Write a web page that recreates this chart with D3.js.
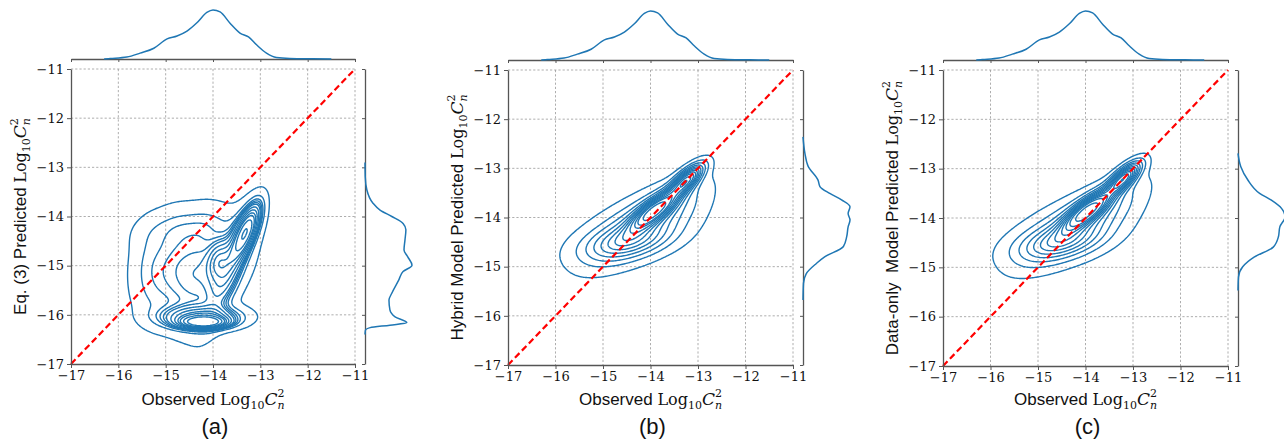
<!DOCTYPE html>
<html><head><meta charset="utf-8">
<script src="https://cdnjs.cloudflare.com/ajax/libs/d3/7.8.5/d3.min.js"></script>
<style>body{margin:0;background:#fff}svg{display:block}</style>
</head><body>
<svg id="chart" width="1284" height="441"></svg>
<script>
// ---------------- data ----------------
const tickValues = [-17, -16, -15, -14, -13, -12, -11];
const panelLabels = ["(a)", "(b)", "(c)"];
const yLabelPrefixes = ["Eq. (3) Predicted ", "Hybrid Model Predicted ", "Data-only  Model Predicted "];

// top marginal: KDE of observed values (same in all panels), relative density
const obsX = [-16.3, -16.17, -15.82, -15.54, -15.25, -14.97, -14.76, -14.55, -14.34, -14.13, -14.0, -13.85, -13.64, -13.43, -13.25, -13.08, -12.87, -12.66, -12.38, -11.9, -11.5];
const obsD = [0.0, 0.01, 0.04, 0.12, 0.22, 0.41, 0.47, 0.57, 0.74, 0.95, 1.0, 0.96, 0.73, 0.53, 0.45, 0.29, 0.12, 0.03, 0.01, 0.003, 0.0];

// right marginals: KDE of predicted values, relative density
const predAY = [-12.9, -13.19, -13.46, -13.73, -13.87, -14.0, -14.14, -14.27, -14.48, -14.68, -14.82, -14.99, -15.12, -15.29, -15.56, -15.70, -15.90, -16.04, -16.16, -16.21, -16.26, -16.31, -16.4];
const predAD = [0.0, 0.005, 0.04, 0.17, 0.32, 0.57, 0.81, 0.87, 0.85, 0.83, 0.91, 1.0, 0.81, 0.72, 0.57, 0.51, 0.53, 0.64, 0.89, 0.53, 0.11, 0.01, 0.0];
const predBY = [-12.36, -12.69, -12.96, -13.24, -13.37, -13.51, -13.64, -13.78, -13.92, -14.05, -14.19, -14.39, -14.59, -14.80, -14.93, -15.14, -15.34, -15.68];
const predBD = [0.0, 0.04, 0.11, 0.32, 0.36, 0.57, 0.82, 1.0, 0.96, 1.0, 0.96, 0.93, 0.86, 0.46, 0.29, 0.07, 0.01, 0.0];
const predCY = [-12.69, -12.96, -13.23, -13.5, -13.64, -13.81, -13.98, -14.18, -14.38, -14.59, -14.79, -14.99, -15.2, -15.47];
const predCD = [0.0, 0.06, 0.21, 0.46, 0.71, 0.93, 1.0, 0.89, 0.86, 0.75, 0.35, 0.10, 0.01, 0.0];

// joint densities, estimated as mixtures: [centreX, centreY, sdX, sdY, corr, weight]
const jointA = [
  [-13.30, -14.30, 0.18, 0.33, 0.70, 0.12],
  [-13.90, -14.90, 0.15, 0.25, 0.30, 0.04],
  [-13.65, -15.00, 0.28, 0.60, 0.75, 0.15],
  [-14.20, -16.15, 0.28, 0.07, 0.00, 0.08],
  [-14.25, -16.05, 0.50, 0.14, 0.00, 0.12],
  [-14.25, -15.20, 0.30, 0.70, 0.20, 0.10],
  [-14.75, -15.05, 0.30, 0.70, 0.00, 0.08],
  [-15.30, -15.10, 0.30, 0.65, 0.00, 0.065],
  [-14.50, -14.20, 0.70, 0.25, 0.30, 0.035],
  [-14.20, -15.00, 0.80, 0.75, 0.30, 0.16]
];
const jointB = [
  [-13.90, -13.85, 0.32, 0.25, 0.80, 0.26],
  [-13.25, -13.25, 0.22, 0.20, 0.75, 0.12],
  [-14.50, -14.50, 0.55, 0.22, 0.40, 0.14],
  [-14.10, -14.10, 0.70, 0.50, 0.75, 0.28],
  [-14.30, -14.30, 0.85, 0.45, 0.50, 0.20]
];
const jointC = [
  [-13.95, -13.85, 0.32, 0.25, 0.80, 0.26],
  [-13.20, -13.20, 0.22, 0.20, 0.75, 0.12],
  [-14.55, -14.50, 0.55, 0.22, 0.40, 0.14],
  [-14.10, -14.10, 0.72, 0.50, 0.78, 0.28],
  [-14.35, -14.30, 0.85, 0.45, 0.50, 0.20]
];
const levelCount = 13, levelThresh = 0.05;

// ---------------- layout ----------------
const panels = [
  {left: 71,  right: 355,  top: 69, bottom: 364, joint: jointA, my: predAY, md: predAD},
  {left: 508, right: 793,  top: 70, bottom: 365, joint: jointB, my: predBY, md: predBD},
  {left: 943, right: 1228, top: 70, bottom: 366, joint: jointC, my: predCY, md: predCD}
];
const blue = "#1f77b4", spine = "#555", gridC = "#999";
const svg = d3.select("#chart");
const serif = "'DejaVu Serif', 'Liberation Serif', serif";

function mixture(comps, x, y) {
  let s = 0;
  for (const [cx, cy, sx, sy, r, w] of comps) {
    const dx = (x - cx) / sx, dy = (y - cy) / sy, q = 1 - r * r;
    s += w / (2 * Math.PI * sx * sy * Math.sqrt(q)) * Math.exp(-(dx * dx - 2 * r * dx * dy + dy * dy) / (2 * q));
  }
  return s;
}

function mathLabel(t, prefix) {
  t.append("tspan").text(prefix);
  t.append("tspan").attr("font-family", serif).attr("font-size", 16).text("Log");
  t.append("tspan").attr("font-family", serif).attr("font-size", 11).attr("dy", 4).text("10");
  t.append("tspan").attr("font-family", serif).attr("font-style", "italic").attr("font-size", 17).attr("dy", -4).text("C");
  t.append("tspan").attr("font-family", serif).attr("font-size", 11).attr("dy", -8).text("2");
  t.append("tspan").attr("font-family", serif).attr("font-style", "italic").attr("font-size", 11).attr("dx", -7).attr("dy", 12).text("n");
}

panels.forEach((p, k) => {
  const x = d3.scaleLinear().domain([-17, -11]).range([p.left, p.right]);
  const y = d3.scaleLinear().domain([-17, -11]).range([p.bottom, p.top]);
  const g = svg.append("g");

  // grid
  g.append("g").selectAll("line").data(tickValues.slice(1)).join("line")
    .attr("x1", d => x(d)).attr("x2", d => x(d)).attr("y1", p.top).attr("y2", p.bottom)
    .attr("stroke", gridC).attr("stroke-width", 0.8).attr("stroke-dasharray", "2.2,2");
  g.append("g").selectAll("line").data(tickValues.slice(1)).join("line")
    .attr("y1", d => y(d)).attr("y2", d => y(d)).attr("x1", p.left).attr("x2", p.right)
    .attr("stroke", gridC).attr("stroke-width", 0.8).attr("stroke-dasharray", "2.2,2");

  // joint density contours
  const n = 240;
  const vals = new Float64Array(n * n);
  for (let j = 0; j < n; j++) for (let i = 0; i < n; i++) {
    const vx = -17 + (i + 0.5) * 6 / n, vy = -11 - (j + 0.5) * 6 / n;
    vals[j * n + i] = mixture(p.joint, vx, vy);
  }
  const sorted = Array.from(vals).sort((a, b) => b - a);
  const total = d3.sum(sorted);
  const cum = []; let acc = 0;
  for (const v of sorted) { acc += v; cum.push(acc / total); }
  const props = d3.range(levelCount).map(i => levelThresh + i * (1 - levelThresh) / (levelCount - 1)).slice(0, -1);
  const levels = props.map(pr => sorted[Math.min(sorted.length - 1, d3.bisectLeft(cum, 1 - pr))]).sort((a, b) => a - b);
  const contours = d3.contours().size([n, n]).thresholds(levels)(vals);
  const tr = d3.geoTransform({point: function(cx, cy) {
    this.stream.point(p.left + cx / n * (p.right - p.left), p.top + cy / n * (p.bottom - p.top));
  }});
  const path = d3.geoPath(tr);
  g.append("g").selectAll("path").data(contours).join("path")
    .attr("d", path).attr("fill", "none").attr("stroke", blue).attr("stroke-width", 1.4)
    .attr("stroke-linejoin", "round");

  // identity line
  g.append("line").attr("x1", x(-17)).attr("y1", y(-17)).attr("x2", x(-11)).attr("y2", y(-11))
    .attr("stroke", "#ff0000").attr("stroke-width", 2.2).attr("stroke-dasharray", "6.5,3.5");

  // axes
  const fmt = d => "\u2212" + Math.abs(d);
  const ax = g.append("g").attr("transform", `translate(0,${p.bottom})`)
    .call(d3.axisBottom(x).tickValues(tickValues).tickFormat(fmt).tickSize(4).tickPadding(3).tickSizeOuter(0));
  const ay = g.append("g").attr("transform", `translate(${p.left},0)`)
    .call(d3.axisLeft(y).tickValues(tickValues).tickFormat(fmt).tickSize(4).tickPadding(3).tickSizeOuter(0));
  [ax, ay].forEach(a => {
    a.select(".domain").attr("stroke", spine).attr("stroke-width", 1.3);
    a.selectAll(".tick line").attr("stroke", spine).attr("stroke-width", 1);
    a.selectAll("text").attr("font-family", serif).attr("font-size", 13).attr("fill", "#111");
  });

  // top marginal
  const topBase = p.top - 10;
  const mt = g.append("g").attr("transform", `translate(0,${topBase})`)
    .call(d3.axisBottom(x).tickValues(tickValues).tickFormat("").tickSize(3).tickSizeOuter(0));
  mt.select(".domain").attr("stroke", spine).attr("stroke-width", 1.3);
  mt.selectAll(".tick line").attr("stroke", spine);
  const hTop = d3.scaleLinear().domain([0, 1]).range([topBase, topBase - 49]);
  g.append("path").datum(d3.zip(obsX, obsD))
    .attr("d", d3.line().x(d => x(d[0])).y(d => hTop(d[1])).curve(d3.curveMonotoneX))
    .attr("fill", "none").attr("stroke", blue).attr("stroke-width", 1.5);

  // right marginal
  const rightBase = p.right + 10;
  const mr = g.append("g").attr("transform", `translate(${rightBase},0)`)
    .call(d3.axisLeft(y).tickValues(tickValues).tickFormat("").tickSize(3).tickSizeOuter(0));
  mr.select(".domain").attr("stroke", spine).attr("stroke-width", 1.3);
  mr.selectAll(".tick line").attr("stroke", spine);
  const wRight = d3.scaleLinear().domain([0, 1]).range([rightBase, rightBase + 47]);
  g.append("path").datum(d3.zip(p.my, p.md))
    .attr("d", d3.line().y(d => y(d[0])).x(d => wRight(d[1])).curve(d3.curveMonotoneY))
    .attr("fill", "none").attr("stroke", blue).attr("stroke-width", 1.5);

  // labels
  const xl = g.append("text").attr("x", (p.left + p.right) / 2).attr("y", 405)
    .attr("text-anchor", "middle").attr("font-family", "'Liberation Sans', Arial, sans-serif").attr("font-size", 17).attr("fill", "#111");
  mathLabel(xl, "Observed ");
  const yl = g.append("text").attr("transform", `translate(${p.left - 45},${(p.top + p.bottom) / 2}) rotate(-90)`)
    .attr("text-anchor", "middle").attr("font-family", "'Liberation Sans', Arial, sans-serif").attr("font-size", 17)
    .attr("fill", "#111").style("white-space", "pre");
  mathLabel(yl, yLabelPrefixes[k]);
  g.append("text").attr("x", (p.left + p.right) / 2 + 2).attr("y", 434).attr("text-anchor", "middle")
    .attr("font-family", "'Liberation Sans', Arial, sans-serif").attr("font-size", 22).attr("fill", "#111").text(panelLabels[k]);
});
</script>
</body></html>
